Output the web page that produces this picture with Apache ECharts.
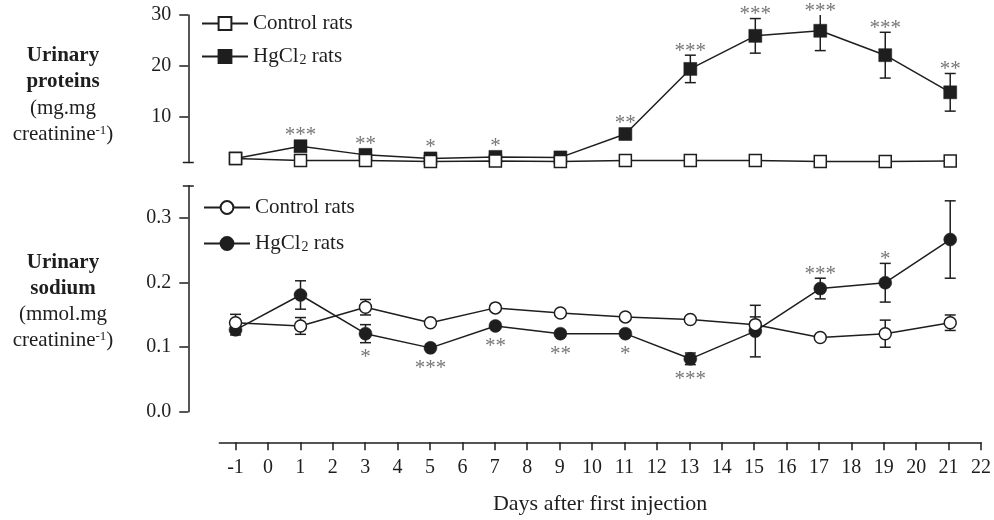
<!DOCTYPE html>
<html>
<head>
<meta charset="utf-8">
<script src="https://cdn.jsdelivr.net/npm/echarts@6/dist/echarts.min.js"></script>
<style>
  html, body { margin: 0; background: #fff; }
  #chart { width: 994px; height: 520px; }
</style>
</head>
<body>
<div id="chart"></div>
<script>
// days on which urine was collected
var days = [-1, 1, 3, 5, 7, 9, 11, 13, 15, 17, 19, 21];
var dayTicks = [-1, 0, 1, 2, 3, 4, 5, 6, 7, 8, 9, 10, 11, 12, 13, 14, 15, 16, 17, 18, 19, 20, 21, 22];
var proteinTicks = [10, 20, 30];
var sodiumTicks = [0, 0.1, 0.2, 0.3];

// urinary proteins (mg/mg creatinine)
var protControl = [1.8, 1.4, 1.4, 1.2, 1.3, 1.2, 1.4, 1.4, 1.4, 1.2, 1.2, 1.3];
var protHg = [1.8, 4.2, 2.5, 1.8, 2.1, 2.0, 6.6, 19.4, 25.9, 26.9, 22.1, 14.8];
var protHgErr = [0.2, 0.4, 0.3, 0.2, 0.3, 0.3, 0.8, 2.7, 3.4, 3.9, 4.5, 3.7];
var protHgStars = ['', '***', '**', '*', '*', '', '**', '***', '***', '***', '***', '**'];
var protHgSide = ['', 'up', 'up', 'up', 'up', '', 'up', 'up', 'up', 'up', 'up', 'up'];

// urinary sodium (mmol/mg creatinine)
var sodControl = [0.138, 0.133, 0.162, 0.138, 0.161, 0.153, 0.147, 0.143, 0.135, 0.115, 0.121, 0.138];
var sodControlErr = [0.013, 0.013, 0.012, 0.004, 0.004, 0.004, 0.004, 0.004, 0.012, 0.004, 0.021, 0.012];
var sodHg = [0.127, 0.181, 0.121, 0.099, 0.133, 0.121, 0.121, 0.082, 0.125, 0.191, 0.200, 0.267];
var sodHgErr = [0.008, 0.022, 0.014, 0.004, 0.004, 0.004, 0.004, 0.009, 0.040, 0.016, 0.030, 0.060];
var sodHgStars = ['', '', '*', '***', '**', '**', '*', '***', '', '***', '*', ''];
var sodHgSide = ['', '', 'down', 'down', 'down', 'down', 'down', 'down', '', 'up', 'up', ''];

var ink = '#1e1e1e';
var serif = '"Liberation Serif", "Times New Roman", serif';
var names = {
  pCtl: 'Control rats', pHg: 'HgCl{sub|2} rats',
  sCtl: 'Control rats', sHg: 'HgCl{sub|2} rats'
};

var chart = echarts.init(document.getElementById('chart'));

// error bars + significance stars, drawn under the markers
function errorBars(idx, means, errs, stars, sides, axisMax) {
  return {
    type: 'custom',
    xAxisIndex: idx,
    yAxisIndex: idx,
    z: 1,
    silent: true,
    clip: false,
    data: days.map(function (d, i) { return [d, means[i], errs[i]]; }),
    renderItem: function (params, api) {
      var i = params.dataIndex;
      var x = api.value(0), m = api.value(1), e = api.value(2);
      var c = api.coord([x, m]);
      var top = Math.min(m + e, axisMax);
      var hi = api.coord([x, top]);
      var lo = api.coord([x, m - e]);
      var st = { stroke: ink, lineWidth: 1.5 };
      var kids = [
        { type: 'line', shape: { x1: c[0], y1: hi[1], x2: c[0], y2: lo[1] }, style: st },
        { type: 'line', shape: { x1: c[0] - 5.5, y1: lo[1], x2: c[0] + 5.5, y2: lo[1] }, style: st }
      ];
      if (m + e <= axisMax) {
        kids.push({ type: 'line', shape: { x1: c[0] - 5.5, y1: hi[1], x2: c[0] + 5.5, y2: hi[1] }, style: st });
      }
      if (stars && stars[i]) {
        var y;
        if (sides[i] === 'up') y = Math.min(c[1] - 6.5, hi[1]) - 4;
        else y = Math.max(c[1] + 6.5, lo[1]) + 14.5;
        kids.push({
          type: 'text',
          style: {
            x: c[0], y: y, text: stars[i], fill: '#777',
            font: '21px ' + serif,
            align: 'center', verticalAlign: 'middle',
            textAlign: 'center', textVerticalAlign: 'middle'
          }
        });
      }
      return { type: 'group', children: kids };
    }
  };
}

function lineSeries(name, idx, values, symbol, filled) {
  return {
    type: 'line',
    name: name,
    xAxisIndex: idx,
    yAxisIndex: idx,
    data: days.map(function (d, i) { return [d, values[i]]; }),
    symbol: symbol,
    symbolSize: filled ? 13 : 12,
    showSymbol: true,
    z: filled ? 2 : 3,
    silent: true,
    lineStyle: { color: ink, width: 1.5 },
    itemStyle: { color: filled ? ink : '#fff', borderColor: ink, borderWidth: filled ? 0.5 : 1.5, opacity: 1 }
  };
}

function legendFor(name, left, top) {
  return {
    data: [name],
    left: left,
    top: top,
    padding: 0,
    itemWidth: 46,
    itemHeight: 16,
    selectedMode: false,
    formatter: function (n) { return names[n]; },
    textStyle: {
      color: ink, fontFamily: serif, fontSize: 21,
      rich: {
        sub: { color: ink, fontFamily: serif, fontSize: 14, verticalAlign: 'bottom', padding: [0, 0, 0, 1] }
      }
    }
  };
}

function yAxisFor(idx, min, max, ticks, fmt, capEnd) {
  return {
    type: 'value',
    gridIndex: idx,
    min: min,
    max: max,
    offset: 31,
    splitLine: { show: false },
    axisLine: {
      show: true,
      onZero: false,
      lineStyle: { color: ink, width: 1.5 },
      symbol: capEnd === 'min' ? ['rect', 'none'] : ['none', 'rect'],
      symbolSize: [11, 1.5]
    },
    axisTick: { show: true, length: 9, lineStyle: { color: ink, width: 1.5 }, customValues: ticks },
    axisLabel: {
      color: ink, fontFamily: serif, fontSize: 20, margin: 17,
      customValues: ticks, formatter: fmt
    }
  };
}

var hiddenX = function (idx) {
  return { type: 'value', gridIndex: idx, min: -1.5, max: 22, show: false };
};

var option = {
  animation: false,
  backgroundColor: '#fff',
  grid: [
    { left: 219.3, right: 11.3, top: 15, height: 147.5 },
    { left: 219.3, right: 11.3, top: 186, height: 225.7 },
    { left: 219.3, right: 11.3, top: 400, height: 42.3 }
  ],
  xAxis: [
    hiddenX(0),
    hiddenX(1),
    {
      type: 'value',
      gridIndex: 2,
      min: -1.5,
      max: 22,
      splitLine: { show: false },
      axisLine: { onZero: false, lineStyle: { color: ink, width: 1.5 } },
      axisTick: { length: 8, lineStyle: { color: ink, width: 1.5 }, customValues: dayTicks },
      axisLabel: { color: ink, fontFamily: serif, fontSize: 20, margin: 15, customValues: dayTicks },
      name: 'Days after first injection',
      nameLocation: 'middle',
      nameGap: 51,
      nameTextStyle: { color: ink, fontFamily: serif, fontSize: 22 }
    }
  ],
  yAxis: [
    yAxisFor(0, 1, 30, proteinTicks, function (v) { return String(v); }, 'min'),
    yAxisFor(1, 0, 0.35, sodiumTicks, function (v) { return v.toFixed(1); }, 'max'),
    { type: 'value', gridIndex: 2, show: false }
  ],
  legend: [
    legendFor('pCtl', 201, 13),
    legendFor('pHg', 201, 46),
    legendFor('sCtl', 203, 197),
    legendFor('sHg', 203, 233)
  ],
  graphic: [
    {
      type: 'text', x: 63, y: 95,
      style: {
        text: '{b|Urinary}\n{b|proteins}\n(mg.mg\ncreatinine{sup|-1})',
        font: '21px ' + serif, fill: ink, lineHeight: 26,
        align: 'center', verticalAlign: 'middle',
        textAlign: 'center', textVerticalAlign: 'middle',
        rich: {
          b: { fontWeight: 'bold', fontFamily: serif, fontSize: 21, fill: ink, lineHeight: 26 },
          sup: { fontFamily: serif, fontSize: 13, fill: ink, verticalAlign: 'top', padding: [3, 0, 0, 0] }
        }
      }
    },
    {
      type: 'text', x: 63, y: 301.5,
      style: {
        text: '{b|Urinary}\n{b|sodium}\n(mmol.mg\ncreatinine{sup|-1})',
        font: '21px ' + serif, fill: ink, lineHeight: 26,
        align: 'center', verticalAlign: 'middle',
        textAlign: 'center', textVerticalAlign: 'middle',
        rich: {
          b: { fontWeight: 'bold', fontFamily: serif, fontSize: 21, fill: ink, lineHeight: 26 },
          sup: { fontFamily: serif, fontSize: 13, fill: ink, verticalAlign: 'top', padding: [3, 0, 0, 0] }
        }
      }
    }
  ],
  series: [
    errorBars(0, protHg, protHgErr, protHgStars, protHgSide, 30),
    errorBars(1, sodHg, sodHgErr, sodHgStars, sodHgSide, 0.35),
    errorBars(1, sodControl, sodControlErr, null, null, 0.35),
    lineSeries('pHg', 0, protHg, 'rect', true),
    lineSeries('pCtl', 0, protControl, 'rect', false),
    lineSeries('sHg', 1, sodHg, 'circle', true),
    lineSeries('sCtl', 1, sodControl, 'circle', false)
  ]
};

chart.setOption(option);
</script>
</body>
</html>
